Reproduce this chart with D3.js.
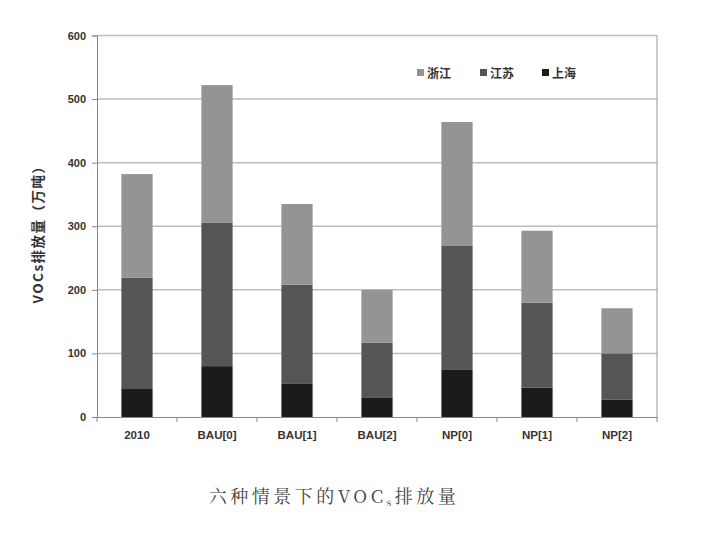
<!DOCTYPE html>
<html><head><meta charset="utf-8">
<script src="https://cdn.jsdelivr.net/npm/d3@7"></script>
<style>body{margin:0;background:#fff}</style>
</head><body><svg id="c" width="706" height="541"></svg>
<script>
const categories = ["2010","BAU[0]","BAU[1]","BAU[2]","NP[0]","NP[1]","NP[2]"];
const seriesNames = ["上海","江苏","浙江"];
const shanghai = [44, 80, 52, 30, 74, 46, 27];
const jiangsu  = [175, 226, 156, 87, 195, 134, 73];
const zhejiang = [163, 216, 127, 83, 195, 113, 71];
const yTicks = [0,100,200,300,400,500,600];
const colors = ["#1b1b1b","#555555","#949494"];

const svg = d3.select("#c");
const m = {l:97, r:657, t:35.5, b:417};
const x = d3.scaleBand().domain(categories).range([m.l, m.r]).paddingInner(0.61).paddingOuter(0.305);
const y = d3.scaleLinear().domain([0,600]).range([m.b, m.t]);

// gridlines
svg.append("g").selectAll("line").data(yTicks.filter(d=>d>0)).join("line")
  .attr("x1", m.l).attr("x2", m.r).attr("y1", d=>y(d)).attr("y2", d=>y(d))
  .attr("stroke", "#bdbdbd").attr("stroke-width", 1.5);
// right border
svg.append("line").attr("x1", m.r).attr("x2", m.r).attr("y1", m.t).attr("y2", m.b)
  .attr("stroke", "#999").attr("stroke-width", 1);

const table = categories.map((c,i)=>({cat:c, 上海:shanghai[i], 江苏:jiangsu[i], 浙江:zhejiang[i]}));
const stack = d3.stack().keys(seriesNames)(table);
svg.append("g").selectAll("g").data(stack).join("g")
  .attr("fill", (d,i)=>colors[i])
  .selectAll("rect").data(d=>d).join("rect")
  .attr("x", d=>x(d.data.cat)).attr("width", x.bandwidth())
  .attr("y", d=>y(d[1])).attr("height", d=>y(d[0])-y(d[1]));

// y axis
const ya = d3.axisLeft(y).tickValues(yTicks).tickSize(5).tickPadding(6);
const gy = svg.append("g").attr("transform", `translate(${m.l},0)`).call(ya);
gy.select(".domain").attr("stroke", "#888");
gy.selectAll(".tick line").attr("stroke", "#888");
gy.selectAll("text").attr("font-family", "Liberation Sans, Arial, sans-serif")
  .attr("font-size", 11).attr("font-weight", "bold").attr("fill", "#333");

// x axis
const xa = d3.axisBottom(x).tickSize(0).tickPadding(14);
const gx = svg.append("g").attr("transform", `translate(0,${m.b})`).call(xa);
gx.select(".domain").attr("stroke", "#888");
gx.selectAll("text").attr("font-family", "Liberation Sans, Arial, sans-serif")
  .attr("font-size", 11.5).attr("font-weight", "bold").attr("fill", "#333");
const step = x.step();
svg.append("g").selectAll("line").data(d3.range(categories.length+1)).join("line")
  .attr("x1", i=>m.l+i*step).attr("x2", i=>m.l+i*step)
  .attr("y1", m.b).attr("y2", m.b+5).attr("stroke", "#888");

// y title
svg.append("text").attr("transform", "translate(43,231) rotate(-90)")
  .attr("text-anchor", "middle").attr("font-family", "Noto Sans CJK SC, sans-serif")
  .attr("font-size", 13.5).attr("font-weight", "bold").attr("fill", "#333")
  .attr("letter-spacing", 1.5)
  .text("VOCs排放量（万吨）");

// legend
const legendOrder = ["浙江","江苏","上海"];
const legendX = [417, 480, 542];
const lg = svg.append("g").selectAll("g").data(legendOrder).join("g")
  .attr("transform", (d,i)=>`translate(${legendX[i]},73)`);
lg.append("rect").attr("x",0).attr("y",-4).attr("width",7).attr("height",7)
  .attr("fill", d=>colors[seriesNames.indexOf(d)]);
lg.append("text").attr("x",10).attr("y",4.5).attr("font-family","Noto Sans CJK SC, sans-serif")
  .attr("font-size",12).attr("font-weight","bold").attr("fill","#333").text(d=>d);

// caption
const cap = svg.append("text").attr("x", 334).attr("y", 503).attr("text-anchor","middle")
  .attr("font-family","Noto Serif CJK SC, Liberation Serif, serif").attr("font-size",18)
  .attr("fill","#444").attr("letter-spacing", 3.5);
cap.append("tspan").text("六种情景下的VOC");
cap.append("tspan").attr("font-size",10).attr("dy",3).text("s");
cap.append("tspan").attr("dy",-3).text("排放量");
</script></body></html>
